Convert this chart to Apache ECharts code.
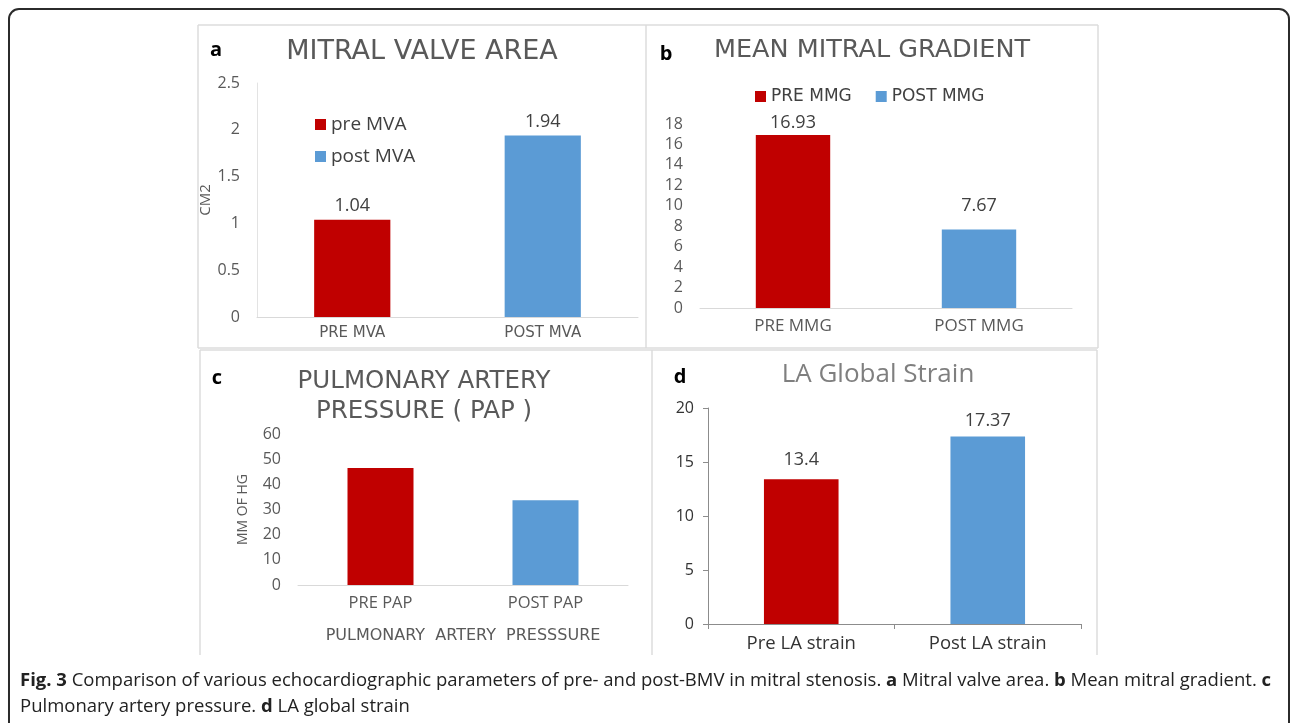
<!DOCTYPE html>
<html lang="en">
<head>
    <meta charset="UTF-8">
    <title>Fig. 3</title>
    <script src="https://cdn.jsdelivr.net/npm/echarts@6/dist/echarts.min.js"></script>
    <style>
        html, body { margin: 0; padding: 0; background: #fff; }
    </style>
</head>
<body>
<div id="main" style="width:1292px;height:723px;"></div>
<script type="text/javascript">
    // panel a - mitral valve area
    var mvaCats = ['PRE MVA', 'POST MVA'];
    var mvaNames = ['pre MVA', 'post MVA'];
    var mvaVals = [1.04, 1.94];
    // panel b - mean mitral gradient
    var mmgCats = ['PRE MMG', 'POST MMG'];
    var mmgNames = ['PRE MMG', 'POST MMG'];
    var mmgVals = [16.93, 7.67];
    // panel c - pulmonary artery pressure (no labels in the original)
    var papCats = ['PRE PAP', 'POST PAP'];
    var papNames = ['PRE PAP ', 'POST PAP '];
    var papVals = [46.5, 33.7];
    // panel d - LA global strain
    var laCats = ['Pre LA strain', 'Post LA strain'];
    var laNames = ['Pre LA strain', 'Post LA strain'];
    var laVals = [13.4, 17.37];

    var RED = '#C00000', BLUE = '#5B9BD5';
    var GRAY = '#595959', DARK = '#404040';
    var FONT = '"Open Sans", sans-serif';
    var WIDE = '"DejaVu Sans", sans-serif';

    var myChart = echarts.init(document.getElementById('main'));

    // one bar per series so that the legend can show pre / post; stacked so they share the slot
    function pairSeries(names, vals, gi, label, dists) {
        return names.map(function (nm, i) {
            return {
                name: nm,
                type: 'bar',
                xAxisIndex: gi,
                yAxisIndex: gi,
                stack: 'p' + gi,
                barWidth: '40%',
                itemStyle: {color: i === 0 ? RED : BLUE},
                label: {
                    show: label,
                    position: 'top',
                    distance: dists ? dists[i] : 6,
                    color: DARK,
                    fontSize: 18,
                    fontFamily: FONT
                },
                data: vals.map(function (v, j) { return j === i ? v : '-'; })
            };
        });
    }

    function xAx(gi, cats, opt) {
        var a = {
            type: 'category',
            gridIndex: gi,
            data: cats,
            axisLine: {lineStyle: {color: '#d9d9d9'}},
            axisTick: {show: false},
            axisLabel: {color: GRAY, fontSize: 16.5, fontFamily: FONT, margin: 10}
        };
        return Object.assign(a, opt || {});
    }

    function yAx(gi, max, step, opt) {
        var a = {
            type: 'value',
            gridIndex: gi,
            min: 0, max: max, interval: step,
            splitLine: {show: false},
            axisLine: {show: false},
            axisTick: {show: false},
            axisLabel: {color: GRAY, fontSize: 16, fontFamily: FONT, margin: 17}
        };
        return Object.assign(a, opt || {});
    }

    function txt(s, x, y, size, color, weight, fam) {
        return {
            type: 'text', x: x, y: y, silent: true,
            style: {
                text: s, fill: color, align: 'center', verticalAlign: 'middle',
                font: (weight || 'normal') + ' ' + size + 'px ' + (fam || FONT), lineHeight: 30
            }
        };
    }

    function ln(x1, y1, x2, y2) {
        return {type: 'line', silent: true, shape: {x1: x1, y1: y1, x2: x2, y2: y2},
            style: {stroke: '#dcdcdc', lineWidth: 1.5}};
    }

    var series = [].concat(
        pairSeries(mvaNames, mvaVals, 0, true, [5, 5]),
        pairSeries(mmgNames, mmgVals, 1, true, [3, 15]),
        pairSeries(papNames, papVals, 2, false),
        pairSeries(laNames, laVals, 3, true, [10, 7])
    );

    var option = {
        animation: false,
        textStyle: {fontFamily: FONT},
        grid: [
            {left: 257, top: 83, width: 381, height: 234},
            {left: 700, top: 124, width: 372, height: 184},
            {left: 298, top: 434, width: 330, height: 151},
            {left: 708, top: 408, width: 373, height: 216}
        ],
        legend: [
            {
                data: mvaNames, orient: 'vertical', left: 310, top: 110,
                icon: 'rect', itemWidth: 11, itemHeight: 11, itemGap: 13,
                selectedMode: false,
                textStyle: {color: DARK, fontSize: 19, fontFamily: FONT}
            },
            {
                data: mmgNames, orient: 'horizontal', left: 750, top: 83,
                icon: 'rect', itemWidth: 11, itemHeight: 11, itemGap: 24,
                selectedMode: false,
                textStyle: {color: DARK, fontSize: 17, fontFamily: WIDE}
            }
        ],
        xAxis: [
            xAx(0, mvaCats, {axisLabel: {color: GRAY, fontSize: 15, fontFamily: WIDE, margin: 9}}),
            xAx(1, mmgCats, {axisLabel: {color: GRAY, fontSize: 17, fontFamily: FONT, margin: 10}}),
            xAx(2, papCats, {
                name: 'PULMONARY  ARTERY  PRESSSURE', nameLocation: 'middle', nameGap: 43,
                nameTextStyle: {color: GRAY, fontSize: 16, fontFamily: WIDE}
            }),
            xAx(3, laCats, {
                axisLine: {lineStyle: {color: '#8c8c8c'}},
                axisTick: {show: true, length: 5, lineStyle: {color: '#8c8c8c'}},
                axisLabel: {color: '#333', fontSize: 18.5, fontFamily: FONT, margin: 10}
            })
        ],
        yAxis: [
            yAx(0, 2.5, 0.5, {
                axisLine: {show: true, lineStyle: {color: '#e3e3e3'}},
                name: 'CM2', nameLocation: 'middle', nameGap: 39,
                nameTextStyle: {color: GRAY, fontSize: 15, fontFamily: FONT}
            }),
            yAx(1, 18, 2),
            yAx(2, 60, 10, {
                name: 'MM OF HG', nameLocation: 'middle', nameGap: 48,
                nameTextStyle: {color: GRAY, fontSize: 14, fontFamily: FONT}
            }),
            yAx(3, 20, 5, {
                axisLine: {show: true, lineStyle: {color: '#8c8c8c'}},
                axisTick: {show: true, length: 5, lineStyle: {color: '#8c8c8c'}},
                axisLabel: {color: '#333', fontSize: 16, fontFamily: FONT, margin: 14}
            })
        ],
        series: series,
        graphic: [
            // outer frame
            {type: 'rect', silent: true, shape: {x: 9, y: 9, width: 1280, height: 730, r: 10},
                style: {fill: 'none', stroke: '#2b2b2b', lineWidth: 2}},
            // panel borders
            ln(198, 25, 1098, 25), ln(198, 25, 198, 348), ln(198, 348, 1098, 348),
            ln(646, 25, 646, 348), ln(1098, 25, 1098, 348),
            ln(200, 350, 1097, 350), ln(200, 350, 200, 655), ln(652, 350, 652, 655),
            ln(1097, 350, 1097, 655),
            // panel letters
            txt('a', 216, 50, 20, '#000', 'bold'),
            txt('b', 666, 54, 20, '#000', 'bold'),
            txt('c', 217, 378, 20, '#000', 'bold'),
            txt('d', 680, 377, 20, '#000', 'bold'),
            // panel titles
            txt('MITRAL VALVE AREA', 422, 52, 27, GRAY, 'normal', WIDE),
            txt('MEAN MITRAL GRADIENT', 872, 50, 25.5, GRAY, 'normal', WIDE),
            txt('PULMONARY ARTERY\nPRESSURE ( PAP )', 424, 397, 24.5, GRAY, 'normal', WIDE),
            txt('LA Global Strain', 878, 375, 26, '#7f7f7f'),
            // caption
            {
                type: 'text', x: 20, y: 668, silent: true,
                style: {
                    text: '{b|Fig. 3} Comparison of various echocardiographic parameters of pre- and post-BMV in mitral stenosis. {b|a} Mitral valve area. {b|b} Mean mitral gradient. {b|c}\nPulmonary artery pressure. {b|d} LA global strain',
                    fill: '#222', font: '18.5px ' + FONT, verticalAlign: 'top', lineHeight: 26,
                    rich: {b: {fontWeight: 'bold', fontSize: 18.5, fontFamily: FONT, fill: '#222', lineHeight: 26}}
                }
            }
        ]
    };

    myChart.setOption(option);
</script>
</body>
</html>
